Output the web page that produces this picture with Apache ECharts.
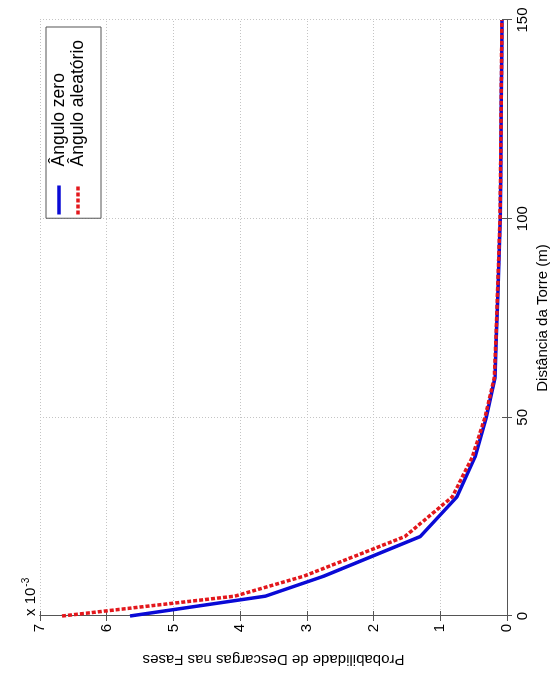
<!DOCTYPE html>
<html>
<head>
<meta charset="utf-8">
<script src="https://cdn.jsdelivr.net/npm/echarts@6/dist/echarts.min.js"></script>
<style>
  html, body { margin: 0; padding: 0; background: #fff; overflow: hidden; width: 559px; height: 675px; }
  /* the figure is laid out landscape and turned a quarter turn counter-clockwise */
  #chart { position: absolute; left: -58px; top: 58px; width: 675px; height: 559px; transform: rotate(-90deg); background: #fff; }
</style>
</head>
<body>
<div id="chart"></div>
<script>
// distance from the tower (m)
var distances = [0, 5, 10, 20, 30, 40, 50, 60, 70, 80, 90, 100, 110, 120, 130, 140, 150];
// probability of strikes on the phase conductors, zero angle
var angleZero = [5.65e-3, 3.62e-3, 2.75e-3, 1.30e-3, 0.75e-3, 0.48e-3, 0.31e-3, 0.18e-3, 0.16e-3, 0.14e-3, 0.12e-3, 0.10e-3, 0.095e-3, 0.09e-3, 0.085e-3, 0.08e-3, 0.075e-3];
// probability of strikes on the phase conductors, random angle
var angleRandom = [6.67e-3, 4.08e-3, 3.05e-3, 1.53e-3, 0.82e-3, 0.52e-3, 0.33e-3, 0.19e-3, 0.165e-3, 0.145e-3, 0.125e-3, 0.105e-3, 0.098e-3, 0.092e-3, 0.087e-3, 0.082e-3, 0.077e-3];
var seriesNames = ['Ângulo zero', 'Ângulo aleatório'];
var xTitle = 'Distância da Torre (m)';
var yTitle = 'Probabilidade de Descargas nas Fases';

function pairs(xs, ys) { return xs.map(function (x, i) { return [x, ys[i]]; }); }

var FONT = '"Liberation Sans", Arial, sans-serif';
var frame = { show: true, lineStyle: { color: '#555', width: 1 } };
var tick = { show: true, inside: true, length: 5, lineStyle: { color: '#555' } };
var grid = { show: true, lineStyle: { color: '#c4c4c4', type: [1, 2], width: 1 } };

var chart = echarts.init(document.getElementById('chart'), null, { renderer: 'canvas' });
chart.setOption({
  animation: false,
  backgroundColor: '#fff',
  grid: { left: 59, right: 20, top: 40, bottom: 52, containLabel: false },
  xAxis: [{
    type: 'value', min: 0, max: 150, interval: 50, position: 'bottom',
    axisLine: frame, axisTick: tick, splitLine: grid,
    axisLabel: { color: '#000', fontSize: 15, fontFamily: FONT, margin: 8 },
    name: xTitle, nameLocation: 'middle', nameGap: 27,
    nameTextStyle: { color: '#000', fontSize: 15, fontFamily: FONT }
  }, {
    type: 'value', min: 0, max: 150, interval: 50, position: 'top',
    axisLine: frame, axisTick: tick, splitLine: { show: false }, axisLabel: { show: false }
  }],
  yAxis: [{
    type: 'value', min: 0, max: 0.007, interval: 0.001, position: 'left',
    axisLine: frame, axisTick: tick, splitLine: grid,
    axisLabel: { color: '#000', fontSize: 15, fontFamily: FONT, margin: 8,
      formatter: function (v) { return String(Math.round(v * 1000)); } },
    name: yTitle, nameLocation: 'middle', nameGap: 36,
    nameTextStyle: { color: '#000', fontSize: 15, fontFamily: FONT }
  }, {
    type: 'value', min: 0, max: 0.007, interval: 0.001, position: 'right',
    axisLine: frame, axisTick: tick, splitLine: { show: false }, axisLabel: { show: false }
  }],
  legend: {
    orient: 'vertical', right: 27, top: 46,
    backgroundColor: '#fff', borderColor: '#555', borderWidth: 1, borderRadius: 0,
    padding: [4, 13, 14, 2], itemWidth: 29, itemHeight: 14, itemGap: 1,
    itemStyle: { opacity: 0 },
    lineStyle: { width: 3.5 },
    textStyle: { color: '#000', fontSize: 17.5, fontFamily: FONT, padding: [0, 0, 0, 14] },
    data: seriesNames
  },
  graphic: [{
    type: 'text', left: 59, top: 21,
    style: {
      text: '{a|x 10}{b|-3}',
      rich: {
        a: { fontSize: 15, fontFamily: FONT, fill: '#000' },
        b: { fontSize: 10, fontFamily: FONT, fill: '#000', verticalAlign: 'top', padding: [0, 0, 10, 1] }
      }
    }
  }],
  series: [{
    name: seriesNames[0], type: 'line', data: pairs(distances, angleZero),
    showSymbol: false, symbol: 'none', smooth: false,
    lineStyle: { color: '#0a0ad6', width: 3.5 }, itemStyle: { color: '#0a0ad6' }
  }, {
    name: seriesNames[1], type: 'line', data: pairs(distances, angleRandom),
    showSymbol: false, symbol: 'none', smooth: false,
    lineStyle: { color: '#e3171c', width: 3.5, type: [4, 2] }, itemStyle: { color: '#e3171c' }
  }]
});
</script>
</body>
</html>
